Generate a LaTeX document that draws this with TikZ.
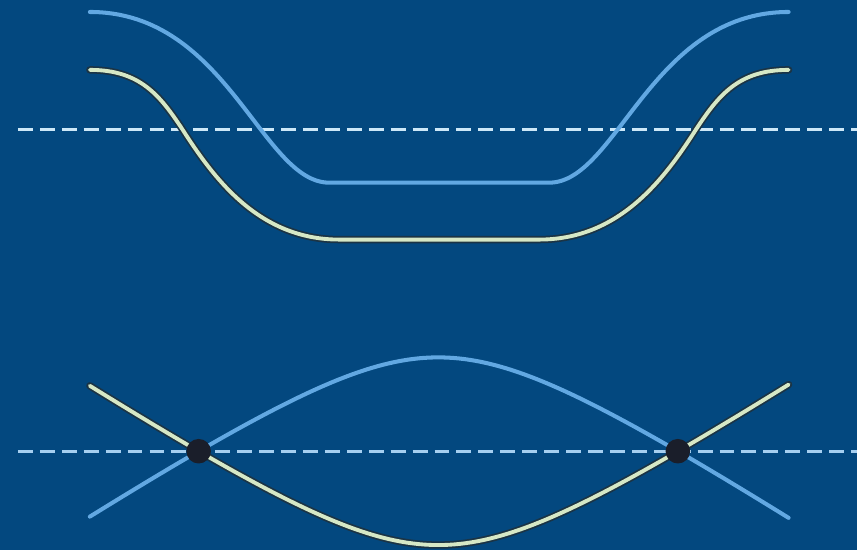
\documentclass[tikz,border=0pt]{standalone}
\usetikzlibrary{positioning}
\definecolor{bgblue}{HTML}{03487F}
\definecolor{curveblue}{HTML}{62A8E2}
\definecolor{curveyel}{HTML}{D6E8C6}
\definecolor{edgedark}{HTML}{1B3445}
\definecolor{dashtop}{HTML}{CDE8F8}
\definecolor{dashbot}{HTML}{A6CFF0}
\definecolor{dotdark}{HTML}{1A1E2A}
\begin{document}
\begin{tikzpicture}[x=0.02cm, y=-0.02cm, bluecurve/.style={draw=curveblue, line width=2.3pt, line cap=round}, yelcurve/.style={draw=curveyel, line width=2.2pt, line cap=round, preaction={draw=edgedark, line width=4.2pt, line cap=round}}, axisline/.style={dash pattern=on 8.5pt off 4pt, line width=1.7pt}, crossdot/.style={circle, fill=dotdark, inner sep=0pt, minimum size=14pt}]
  \fill[bgblue] (0,0) rectangle (858,551);
  % upper pair: two shifted troughs
  \coordinate (upL) at (18,130);
  \coordinate (upR) at (858,130);
  \draw[axisline, draw=dashtop] (upL) -- (upR);
  \draw[bluecurve] (90,12) .. controls (228,12) and (262,183) .. (330,183) -- (550,183) .. controls (618,183) and (652,12) .. (790,12);
  \draw[yelcurve] (90,70) .. controls (140,70) and (160,95) .. (183,130) .. controls (215,180) and (260,240) .. (340,240) -- (540,240) .. controls (620,240) and (665,180) .. (697,130) .. controls (720,95) and (740,70) .. (790,70);
  % lower pair: crossing curves
  \coordinate (lowL) at (18,452);
  \coordinate (lowR) at (858,452);
  \draw[axisline, draw=dashbot] (lowL) -- (lowR);
  \draw[bluecurve] plot[domain=90:790, samples=120] ({\x},{452-10*(18.05-sqrt(74.82+(0.066*(\x-439))^2))});
  \draw[yelcurve] plot[domain=90:790, samples=120] ({\x},{452+10*(18.05-sqrt(74.82+(0.066*(\x-439))^2))});
  \node[crossdot] (dotL) at (199,452) {};
  \node[crossdot] (dotR) at (679,452) {};
\end{tikzpicture}
\end{document}
